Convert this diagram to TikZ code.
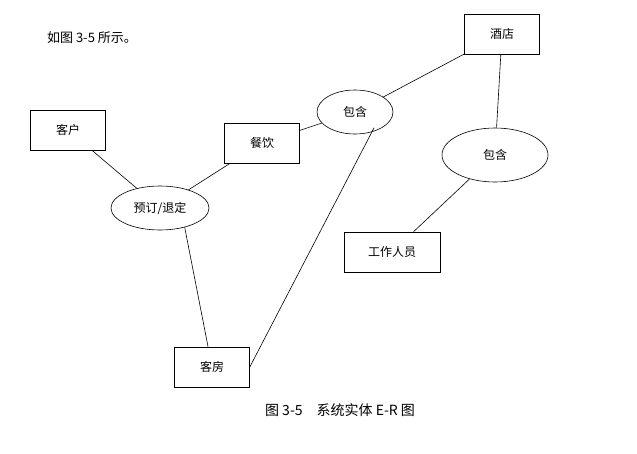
\documentclass[tikz,border=0pt]{standalone}
\usepackage{fontspec}
\setmainfont{Noto Sans CJK SC}
\usetikzlibrary{shapes.geometric}
\begin{document}
\begin{tikzpicture}[x=1pt,y=-1pt,
  ent/.style={draw,semithick,minimum width=75pt,minimum height=40pt,font=\fontsize{12}{14}\selectfont},
  rel/.style={draw,semithick,ellipse,inner sep=0pt,font=\fontsize{12}{14}\selectfont},
  ln/.style={semithick}]
\useasboundingbox (0,0) rectangle (637,453);
\node[ent] (hotel) at (502,34) {酒店};
\node[ent] (cust) at (68,130) {客户};
\node[ent] (food) at (262,143) {餐饮};
\node[ent,minimum width=96pt] (staff) at (392,252) {工作人员};
\node[ent] (room) at (212,367) {客房};
\node[rel,minimum width=76pt,minimum height=44pt] (c1) at (355,112) {包含};
\node[rel,minimum width=106pt,minimum height=54pt] (c2) at (495,155) {包含};
\node[rel,minimum width=98pt,minimum height=44pt] (bk) at (160,208) {预订/退定};
\draw[ln] (hotel) -- (c1);
\draw[ln] (c1) -- (food);
\draw[ln] (c1.south east) ++(-8,0) coordinate (a) (a) -- (room.east);
\draw[ln] (hotel) -- (c2);
\draw[ln] (c2) -- (staff);
\draw[ln] (cust) -- (bk);
\draw[ln] (food) -- (bk);
\draw[ln] (bk.-38) -- (room);
\node[font=\fontsize{14}{16}\selectfont] (cap) at (340,410) {图 3-5\quad 系统实体 E-R 图};
\node[font=\fontsize{13}{15}\selectfont] (intro) at (92,38) {如图 3-5 所示。};
\end{tikzpicture}
\end{document}
